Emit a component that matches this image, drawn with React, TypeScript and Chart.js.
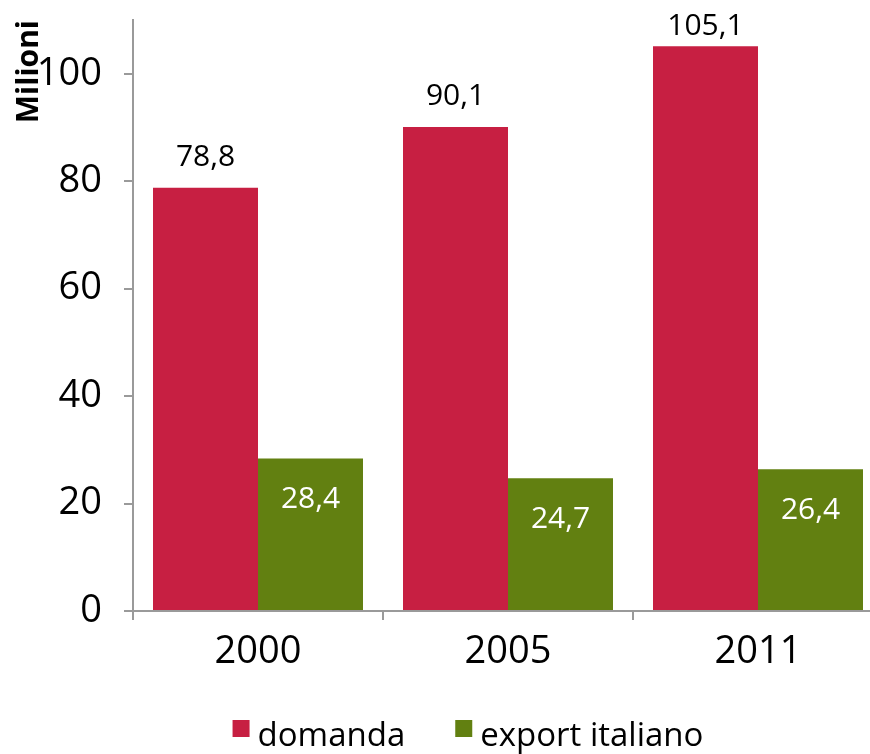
import React, { useEffect, useRef } from "react";
import { Chart, registerables } from "chart.js";

Chart.register(...registerables);

const categories = ["2000", "2005", "2011"];
const seriesNames = ["domanda", "export italiano"];
const domanda = [78.8, 90.1, 105.1];
const exportItaliano = [28.4, 24.7, 26.4];
const yTicks = [0, 20, 40, 60, 80, 100];

const RED = "#C71F42";
const GREEN = "#628011";
const FONT = '"Open Sans", "Noto Sans", sans-serif';

const fmt = (v: number) => v.toFixed(1).replace(".", ",");

const labelPlugin = {
  id: "customLabels",
  afterDatasetsDraw(chart: any) {
    const ctx = chart.ctx;
    ctx.save();
    ctx.font = `30px ${FONT}`;
    ctx.textAlign = "center";
    chart.data.datasets.forEach((ds: any, di: number) => {
      const meta = chart.getDatasetMeta(di);
      meta.data.forEach((bar: any, i: number) => {
        const v = ds.data[i];
        if (di === 0) {
          ctx.fillStyle = "#000";
          ctx.textBaseline = "alphabetic";
          ctx.fillText(fmt(v), bar.x, Math.max(bar.y - 22, 35));
        } else {
          ctx.fillStyle = "#fff";
          ctx.textBaseline = "middle";
          ctx.fillText(fmt(v), bar.x, bar.y + 41);
        }
      });
    });
    ctx.restore();
  },
  afterDraw(chart: any) {
    const ctx = chart.ctx;
    ctx.save();
    ctx.font = `33px ${FONT}`;
    ctx.textBaseline = "alphabetic";
    ctx.textAlign = "left";
    const box = 17;
    const gap = 8;
    const itemGap = 50;
    const ds = chart.data.datasets;
    const widths = ds.map((d: any) => ctx.measureText(d.label).width);
    const total = widths.reduce((a: number, w: number) => a + box + gap + w, 0) + itemGap * (ds.length - 1);
    let x = 468 - total / 2;
    ds.forEach((d: any, i: number) => {
      ctx.fillStyle = d.backgroundColor;
      ctx.fillRect(x, 720, box, box);
      ctx.fillStyle = "#000";
      ctx.fillText(d.label, x + box + gap, 746);
      x += box + gap + widths[i] + itemGap;
    });
    ctx.restore();
  },
};

export default function App() {
  const ref = useRef<HTMLCanvasElement>(null);
  useEffect(() => {
    if (!ref.current) return;
    const chart = new Chart(ref.current, {
      type: "bar",
      data: {
        labels: categories,
        datasets: [
          { label: seriesNames[0], data: domanda, backgroundColor: RED, categoryPercentage: 0.84, barPercentage: 1 },
          { label: seriesNames[1], data: exportItaliano, backgroundColor: GREEN, categoryPercentage: 0.84, barPercentage: 1 },
        ],
      },
      options: {
        animation: false,
        responsive: true,
        maintainAspectRatio: false,
        layout: { padding: { top: 20, right: 17, bottom: 0, left: 0 } },
        plugins: { legend: { display: false }, tooltip: { enabled: false } },
        scales: {
          x: {
            grid: { display: true, drawOnChartArea: false, offset: true, tickLength: 9, color: "#9a9a9a", lineWidth: 2 },
            border: { color: "#9a9a9a", width: 2 },
            ticks: { color: "#000", font: { family: FONT, size: 38 }, padding: 9, maxRotation: 0 },
            afterFit: (s: any) => {
              s.height = 143;
              s.paddingLeft = 0;
              s.paddingRight = 0;
            },
          },
          y: {
            min: 0,
            max: 110,
            grid: { display: true, drawOnChartArea: false, tickLength: 9, color: "#9a9a9a", lineWidth: 2 },
            border: { color: "#9a9a9a", width: 2 },
            ticks: { color: "#000", font: { family: FONT, size: 38 }, padding: 22, stepSize: 20 },
            afterBuildTicks: (s: any) => {
              s.ticks = yTicks.map((v) => ({ value: v }));
            },
            title: {
              display: true,
              text: "Milioni",
              align: "end",
              color: "#000",
              font: { family: FONT, size: 30, weight: "bold" },
              padding: { top: 11, bottom: 0 },
            },
            afterFit: (s: any) => {
              s.width = 133;
              s.paddingTop = 0;
              s.paddingBottom = 0;
            },
          },
        },
      },
      plugins: [labelPlugin],
    });
    return () => chart.destroy();
  }, []);
  return (
    <div style={{ position: "fixed", left: 0, top: 0, width: 870, height: 754, overflow: "hidden", background: "#fff" }}>
      <div style={{ position: "relative", width: 900, height: 754 }}>
        <canvas ref={ref} />
      </div>
    </div>
  );
}
